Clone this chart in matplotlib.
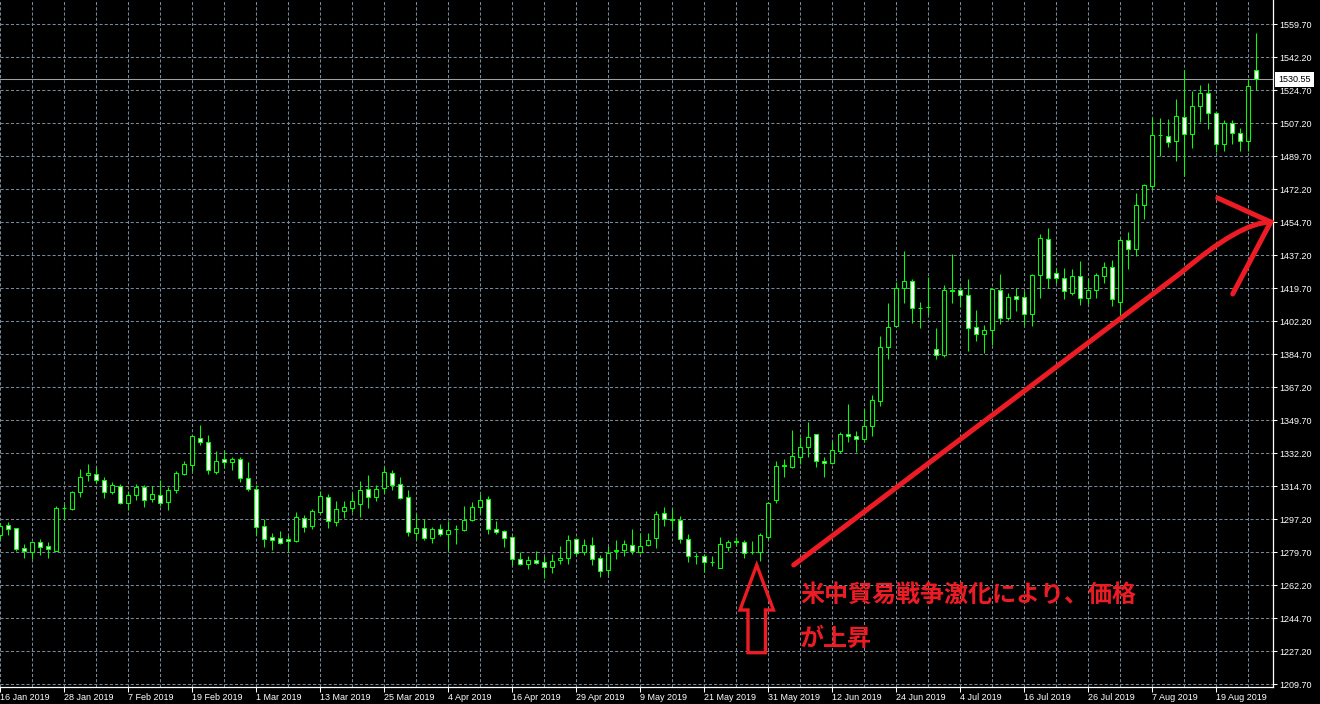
import matplotlib
matplotlib.use("Agg")
import matplotlib.pyplot as plt
from matplotlib.patches import Polygon, PathPatch
from matplotlib.path import Path
from matplotlib.ticker import FixedLocator, MultipleLocator
import numpy as np

# ---- data (XAUUSD daily) ----
opens = [1288.7, 1294.0, 1292.4, 1281.9, 1279.7, 1285.0, 1282.9, 1280.6, 1303.0, 1302.5,
         1311.8, 1320.5, 1321.0, 1318.3, 1311.8, 1315.0, 1306.0, 1310.2, 1314.1, 1308.1,
         1309.9, 1306.2, 1312.5, 1321.3, 1326.1, 1340.5, 1338.4, 1322.2, 1329.0, 1327.4,
         1329.0, 1318.9, 1313.1, 1293.5, 1287.6, 1287.1, 1286.6, 1285.9, 1297.7, 1293.8,
         1301.1, 1308.9, 1295.9, 1301.8, 1303.4, 1305.2, 1313.1, 1309.2, 1314.0, 1321.6,
         1315.8, 1309.2, 1290.1, 1292.4, 1287.3, 1292.2, 1289.4, 1292.1, 1291.7, 1297.0,
         1303.7, 1308.2, 1292.2, 1291.2, 1288.0, 1276.3, 1273.7, 1275.8, 1274.7, 1271.9,
         1275.8, 1276.7, 1286.9, 1279.9, 1283.4, 1276.9, 1270.3, 1280.6, 1280.9, 1283.8,
         1279.9, 1283.8, 1287.5, 1300.4, 1297.2, 1296.8, 1286.6, 1277.9, 1277.6, 1274.6,
         1271.6, 1282.7, 1285.5, 1285.0, 1279.8, 1280.1, 1288.0, 1307.3, 1325.6, 1325.1,
         1330.1, 1335.4, 1342.3, 1328.0, 1326.9, 1333.6, 1342.3, 1341.6, 1339.6, 1346.5,
         1360.1, 1388.4, 1399.9, 1419.7, 1423.4, 1409.3, 1410.0, 1387.3, 1384.2, 1418.8,
         1418.6, 1416.0, 1399.0, 1395.3, 1397.4, 1418.6, 1403.8, 1415.5, 1414.9, 1406.3,
         1426.6, 1445.7, 1427.7, 1425.0, 1417.4, 1426.1, 1414.4, 1418.6, 1426.4, 1430.8,
         1412.3, 1445.2, 1440.4, 1463.7, 1474.1, 1501.0, 1500.7, 1497.6, 1510.7, 1501.4,
         1516.2, 1523.1, 1512.5, 1496.1, 1507.2, 1502.2, 1497.6, 1535.3]
highs = [1295.0, 1295.8, 1292.8, 1284.2, 1285.4, 1286.8, 1285.2, 1304.2, 1305.3, 1312.3,
         1323.8, 1326.4, 1324.7, 1319.4, 1316.9, 1315.9, 1312.2, 1315.9, 1315.2, 1314.8,
         1318.3, 1314.5, 1322.7, 1328.0, 1341.9, 1347.2, 1341.9, 1333.3, 1334.0, 1330.4,
         1330.1, 1327.6, 1315.4, 1297.2, 1289.8, 1291.0, 1288.9, 1301.1, 1299.5, 1302.7,
         1312.2, 1310.6, 1306.9, 1306.9, 1311.0, 1317.5, 1320.7, 1315.4, 1324.8, 1323.4,
         1319.5, 1312.8, 1300.0, 1297.2, 1293.1, 1294.9, 1296.1, 1294.0, 1304.1, 1306.2,
         1310.8, 1309.4, 1296.3, 1291.7, 1288.2, 1279.9, 1277.6, 1280.2, 1277.6, 1278.6,
         1282.9, 1288.7, 1287.5, 1286.6, 1287.8, 1278.1, 1283.2, 1286.1, 1286.1, 1291.9,
         1289.8, 1290.1, 1301.6, 1303.6, 1302.5, 1299.0, 1289.4, 1279.5, 1278.6, 1277.8,
         1288.0, 1286.2, 1288.0, 1286.2, 1285.9, 1289.8, 1306.6, 1328.1, 1329.2, 1344.4,
         1340.8, 1348.8, 1342.4, 1330.2, 1338.7, 1343.5, 1358.3, 1343.8, 1355.5, 1363.1,
         1394.2, 1411.7, 1423.2, 1439.3, 1424.5, 1412.4, 1425.9, 1398.6, 1421.3, 1437.7,
         1420.6, 1424.5, 1408.2, 1400.2, 1419.7, 1427.3, 1417.0, 1419.7, 1418.5, 1427.3,
         1448.3, 1451.5, 1430.3, 1430.7, 1429.8, 1434.2, 1425.0, 1428.0, 1433.8, 1434.5,
         1446.2, 1449.5, 1470.1, 1474.8, 1510.4, 1510.0, 1509.5, 1519.9, 1535.3, 1524.5,
         1527.3, 1528.4, 1513.4, 1509.0, 1509.0, 1504.7, 1530.5, 1555.3]
lows = [1287.0, 1288.7, 1280.6, 1276.9, 1276.0, 1278.3, 1276.9, 1280.3, 1297.4, 1302.1,
        1309.0, 1317.5, 1316.2, 1308.6, 1310.8, 1305.3, 1302.1, 1307.4, 1303.9, 1306.5,
        1304.4, 1302.3, 1311.3, 1320.6, 1322.9, 1336.7, 1321.0, 1321.3, 1324.2, 1323.4,
        1317.2, 1312.4, 1288.9, 1282.5, 1280.9, 1283.9, 1280.9, 1285.2, 1290.3, 1292.2,
        1300.6, 1292.6, 1293.7, 1298.1, 1300.9, 1298.4, 1303.4, 1306.9, 1311.0, 1312.8,
        1308.0, 1288.5, 1286.2, 1286.2, 1284.6, 1288.2, 1280.8, 1283.9, 1290.8, 1296.3,
        1300.6, 1289.6, 1289.6, 1282.5, 1272.8, 1272.8, 1271.0, 1273.5, 1266.3, 1268.7,
        1273.3, 1273.7, 1278.1, 1278.1, 1272.8, 1266.6, 1267.5, 1276.2, 1277.9, 1279.0,
        1279.2, 1283.1, 1282.2, 1293.8, 1292.1, 1284.5, 1274.7, 1273.5, 1269.4, 1272.4,
        1271.6, 1280.6, 1283.1, 1276.5, 1278.8, 1275.1, 1286.6, 1306.0, 1319.8, 1324.4,
        1326.7, 1330.4, 1325.1, 1319.8, 1326.5, 1332.5, 1338.0, 1332.9, 1338.4, 1341.5,
        1357.5, 1382.4, 1399.7, 1412.1, 1401.5, 1398.8, 1405.6, 1382.3, 1383.1, 1412.1,
        1410.0, 1386.6, 1391.9, 1385.6, 1389.6, 1401.0, 1402.9, 1407.7, 1400.2, 1399.9,
        1414.8, 1419.7, 1422.4, 1414.0, 1416.2, 1410.9, 1411.4, 1414.7, 1422.4, 1410.5,
        1403.8, 1430.2, 1437.0, 1456.4, 1472.4, 1490.0, 1494.8, 1487.4, 1479.4, 1494.3,
        1508.1, 1504.0, 1492.2, 1492.7, 1496.2, 1492.7, 1492.7, 1524.9]
closes = [1293.7, 1291.9, 1281.3, 1280.3, 1285.0, 1282.4, 1281.3, 1303.2, 1303.1, 1311.6,
          1319.4, 1321.5, 1317.8, 1311.8, 1315.3, 1306.0, 1309.9, 1314.1, 1307.6, 1310.4,
          1306.0, 1312.5, 1321.5, 1326.3, 1341.2, 1338.4, 1323.1, 1327.9, 1327.4, 1329.0,
          1319.3, 1313.1, 1293.3, 1286.6, 1286.4, 1284.8, 1285.5, 1298.3, 1293.3, 1301.6,
          1309.4, 1296.1, 1302.5, 1303.6, 1306.7, 1312.6, 1309.2, 1313.1, 1322.1, 1315.6,
          1308.7, 1290.3, 1292.4, 1287.5, 1292.2, 1289.6, 1291.7, 1292.2, 1297.0, 1303.9,
          1307.6, 1292.2, 1290.5, 1287.5, 1276.3, 1273.7, 1275.5, 1274.2, 1272.1, 1275.3,
          1276.9, 1286.1, 1279.5, 1283.4, 1276.2, 1270.0, 1279.2, 1280.7, 1284.3, 1280.4,
          1283.1, 1286.2, 1299.9, 1297.2, 1296.8, 1286.6, 1277.6, 1277.6, 1274.7, 1274.4,
          1283.9, 1285.0, 1285.3, 1279.5, 1279.6, 1288.9, 1305.7, 1325.3, 1325.8, 1330.6,
          1335.4, 1340.7, 1328.0, 1326.9, 1333.8, 1342.4, 1341.2, 1339.8, 1346.5, 1360.3,
          1388.4, 1399.0, 1419.7, 1423.4, 1409.1, 1409.0, 1409.8, 1384.2, 1418.6, 1418.5,
          1416.0, 1398.5, 1395.3, 1397.4, 1419.3, 1403.8, 1414.9, 1413.9, 1406.3, 1426.6,
          1446.2, 1425.0, 1425.0, 1418.1, 1426.1, 1414.4, 1418.6, 1426.6, 1430.8, 1413.9,
          1445.2, 1440.8, 1463.7, 1474.3, 1500.8, 1500.8, 1497.1, 1510.9, 1501.4, 1516.2,
          1523.1, 1512.5, 1496.1, 1507.2, 1502.2, 1497.6, 1526.8, 1530.55]

date_labels = ["16 Jan 2019", "28 Jan 2019", "7 Feb 2019", "19 Feb 2019", "1 Mar 2019",
               "13 Mar 2019", "25 Mar 2019", "4 Apr 2019", "16 Apr 2019", "29 Apr 2019",
               "9 May 2019", "21 May 2019", "31 May 2019", "12 Jun 2019", "24 Jun 2019",
               "4 Jul 2019", "16 Jul 2019", "26 Jul 2019", "7 Aug 2019", "19 Aug 2019"]
label_step = 8
price_ticks_start = 1209.70
price_ticks_step = 17.5
n_price_ticks = 21
last_price = 1530.55

annot_line1 = "米中貿易戦争激化により、価格"
annot_line2 = "が上昇"

# ---- styling ----
BG = "black"
UP_EDGE = "#00ff00"
GRID = "#778899"
RED = "#ED1C24"
TICKFONT = "Liberation Sans"

W, H = 1320, 704
fig = plt.figure(figsize=(W / 100, H / 100), dpi=100, facecolor=BG)
ax_left, ax_right_px, ax_bottom_px = 0.0, 1272.7, 687.3
ax = fig.add_axes([0, (H - ax_bottom_px) / H, ax_right_px / W, ax_bottom_px / H])
ax.set_facecolor(BG)

o = np.array(opens); h = np.array(highs); l = np.array(lows); c = np.array(closes)
x = np.arange(len(o))
px_per_unit = 33 / 17.5

# wicks
ax.vlines(x, l, h, colors=UP_EDGE, linewidth=0.75, zorder=3)
# bodies
bull = c >= o
body_bottom = np.minimum(o, c)
body_h = np.maximum(np.abs(c - o), 0.02)
fills = np.where(bull, "black", "white")
ax.bar(x, body_h, bottom=body_bottom, width=0.55, color=fills,
       edgecolor=UP_EDGE, linewidth=0.75, zorder=4)

# axes limits to match pixel layout
ax.set_xlim(0, ax_right_px / 8)
ymin = price_ticks_start - 3 / px_per_unit
ymax = price_ticks_start + 684.3 / px_per_unit
ax.set_ylim(ymin, ymax)

# y ticks on the right
yt = price_ticks_start + price_ticks_step * np.arange(n_price_ticks)
ax.yaxis.tick_right()
ax.set_yticks(yt)
ax.set_yticklabels([f"{v:.2f}" for v in yt], fontfamily=TICKFONT, fontsize=6.5, color="white")
ax.tick_params(axis="y", which="major", direction="out", length=3, width=0.75,
               color="white", pad=1.5)

# x ticks
xt = np.arange(0, len(date_labels) * label_step, label_step)
ax.xaxis.set_major_locator(FixedLocator(xt))
ax.set_xticklabels(date_labels, fontfamily=TICKFONT, fontsize=6.5, color="white", ha="left")
ax.xaxis.set_minor_locator(MultipleLocator(4))
ax.tick_params(axis="x", which="major", direction="out", length=3.6, width=0.75,
               color="white", pad=0.5)
ax.tick_params(axis="x", which="minor", length=0)

# grid
ax.grid(True, axis="x", which="both", color=GRID, linestyle=(0, (3, 2)), linewidth=0.75, zorder=0)
ax.grid(True, axis="y", which="major", color=GRID, linestyle=(0, (3, 2)), linewidth=0.75, zorder=0)
ax.set_axisbelow(True)

for s in ["top", "left"]:
    ax.spines[s].set_visible(False)
for s in ["bottom", "right"]:
    ax.spines[s].set_color("white")
    ax.spines[s].set_linewidth(0.9)

# last price line & label
ax.axhline(last_price, color="#a0a0a0", linewidth=0.75, zorder=2)
ax.text(1.0044, last_price, f"{last_price:.2f}", transform=ax.get_yaxis_transform(),
        ha="left", va="center", fontfamily=TICKFONT, fontsize=6.5, color="black",
        bbox=dict(boxstyle="square,pad=0.35", fc="white", ec="none"), clip_on=False, zorder=10)

# ---- red annotations (data coords: bar index, price) ----
shaft_start = (99.21, 1272.97)
shaft_mid = (147.59, 1427.82)
shaft_ctrl = (155.09, 1454.86)
arrow_tip = (158.84, 1454.86)
head_upper = (152.21, 1467.59)
head_lower = (154.09, 1416.68)

path = Path([shaft_start, shaft_mid, shaft_ctrl, arrow_tip],
            [Path.MOVETO, Path.LINETO, Path.CURVE3, Path.CURVE3])
ax.add_patch(PathPatch(path, fill=False, edgecolor=RED, linewidth=3.6,
                       capstyle="round", joinstyle="round", zorder=6, clip_on=False))
ax.plot([head_upper[0], arrow_tip[0], head_lower[0]],
        [head_upper[1], arrow_tip[1], head_lower[1]],
        color=RED, linewidth=3.6, solid_capstyle="round", solid_joinstyle="miter",
        zorder=6, clip_on=False)

hollow = [(94.59, 1272.97), (92.5, 1249.1), (93.5, 1249.1), (93.5, 1226.46),
          (95.68, 1226.46), (95.68, 1249.1), (96.68, 1249.1)]
ax.add_patch(Polygon(hollow, closed=True, fill=False, edgecolor=RED, linewidth=2.4,
                     joinstyle="miter", zorder=6))

ax.text(100.0, 1257.43, annot_line1, color=RED, fontsize=17.3, fontweight="bold",
        family=["Noto Sans CJK JP", "DejaVu Sans"], ha="left", va="center", zorder=7)
ax.text(100.0, 1233.56, annot_line2, color=RED, fontsize=17.3, fontweight="bold",
        family=["Noto Sans CJK JP", "DejaVu Sans"], ha="left", va="center", zorder=7)

fig.savefig("out.png", dpi=100, facecolor=BG)
